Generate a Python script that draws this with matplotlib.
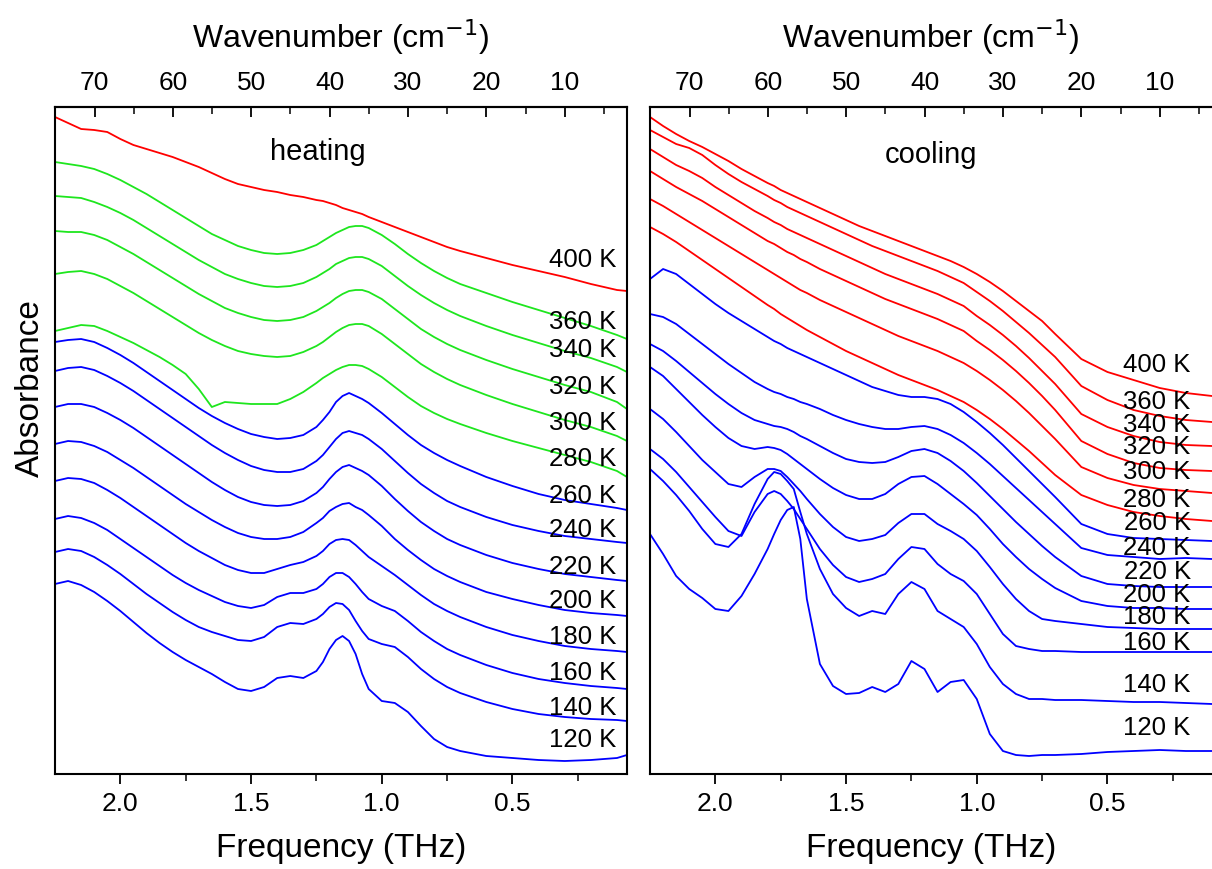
import matplotlib
matplotlib.use("Agg")
import matplotlib.pyplot as plt
from matplotlib.ticker import FixedLocator, MultipleLocator

plt.rcParams['font.family'] = ['Liberation Sans', 'DejaVu Sans']

# ---------------- data (absorbance, arb. units, vertically offset) ----------------
freq_heat = [2.25, 2.20, 2.15, 2.10, 2.05, 2.00, 1.95, 1.90, 1.85, 1.80, 1.75, 1.70, 1.65,
             1.60, 1.55, 1.50, 1.45, 1.40, 1.35, 1.30, 1.25, 1.225, 1.20, 1.175, 1.15,
             1.125, 1.10, 1.075, 1.05, 1.00, 0.95, 0.90, 0.85, 0.80, 0.75, 0.70,
             0.60, 0.50, 0.40, 0.30, 0.20, 0.10, 0.062]
freq_cool = [2.25, 2.20, 2.15, 2.10, 2.05, 2.00, 1.95, 1.90, 1.85, 1.80, 1.775, 1.75, 1.725,
             1.70, 1.675, 1.65, 1.60, 1.55, 1.50, 1.45, 1.40, 1.35, 1.30, 1.25, 1.20, 1.15,
             1.10, 1.05, 1.00, 0.95, 0.90, 0.85, 0.80, 0.75, 0.70,
             0.60, 0.50, 0.40, 0.30, 0.20, 0.10]

heat_labels = ["400 K", "360 K", "340 K", "320 K", "300 K", "280 K", "260 K",
               "240 K", "220 K", "200 K", "180 K", "160 K", "140 K", "120 K"]
heat_colors = ["red"] + ["#1ee61e"] * 5 + ["blue"] * 8

heat_400 = [657,651,645,644,642,635,629,625,621,617,612,607,601,595,590,587,584,582,579,577,
            574,573,571,569,566,564,562,560,557, 552,547,542,537,532,527,523, 516,509,503,497,490,484,483]
heat_360 = [612,610,608,605,600,594,587,580,572,564,556,548,540,534,528,524,521,520,521,524,
            529,533,537,541,544,547,548,548,546, 539,530,520,511,503,496,490, 481,472,464,456,448,439,435]
heat_340 = [578,577,576,572,567,561,554,546,538,530,522,514,507,500,495,491,488,487,488,491,
            497,501,505,510,513,516,517,517,515, 508,498,488,479,471,464,458, 448,439,431,423,416,407,402]
heat_320 = [543,542,542,539,534,527,520,512,504,496,488,480,473,466,461,457,454,453,454,457,
            463,467,471,476,480,483,484,484,482, 475,465,455,445,437,430,424, 414,405,397,389,382,372,365]
heat_300 = [500,502,503,500,495,488,481,473,465,457,449,441,434,428,423,420,418,417,418,422,
            428,432,437,442,446,449,450,450,448, 440,430,420,410,402,395,389, 379,370,362,354,347,338,333]
heat_280 = [443,446,449,448,443,437,431,424,417,409,400,385,367,372,371,370,370,370,375,382,
            391,396,400,404,407,409,409,408,405, 397,387,377,368,361,355,350, 341,333,326,319,312,303,297]
heat_260 = [432,434,435,432,426,419,411,402,393,384,375,366,358,351,345,340,337,335,336,339,
            347,354,362,372,378,381,378,375,371, 361,350,339,329,321,314,308, 297,288,280,274,270,266,264]
heat_240 = [403,406,407,404,398,391,383,374,365,356,347,338,329,321,314,308,304,302,302,305,
            313,319,327,335,341,343,341,339,335, 325,313,301,290,281,273,267, 257,249,243,238,235,232,231]
heat_220 = [367,370,370,367,361,354,346,337,328,319,310,301,292,284,277,272,269,268,269,273,
            281,287,295,302,307,309,306,303,299, 288,275,263,252,243,235,229, 219,211,205,200,197,194,193]
heat_200 = [330,333,332,328,322,314,306,297,288,279,270,262,254,247,241,237,235,235,237,242,
            251,256,263,267,270,271,267,264,259, 248,235,224,214,205,198,192, 182,175,169,164,161,159,158]
heat_180 = [293,296,295,291,284,276,267,258,249,240,231,223,216,209,204,201,201,205,209,212,
            218,223,230,234,235,234,229,223,217, 208,199,189,179,170,163,157, 147,139,133,128,125,123,122]
heat_160 = [255,258,256,251,244,235,226,217,208,199,191,184,178,172,168,166,169,177,181,181,
            185,190,197,201,201,197,190,182,175, 168,163,153,142,133,125,119, 109,101,95,91,88,86,85]
heat_140 = [222,225,223,217,209,200,190,180,171,162,154,147,142,138,134,133,137,147,151,150,
            155,160,167,171,170,164,153,143,135, 130,127,117,105,95,87,81, 72,65,60,57,55,54,53]
heat_120 = [190,193,189,182,173,163,152,141,131,122,114,107,100,92,85,83,87,96,98,96,
            103,112,125,134,138,133,120,100,85, 73,71,62,48,35,27,23, 18,16,14,13,14,16,19]

cool_labels = ["400 K", "360 K", "340 K", "320 K", "300 K", "280 K", "260 K",
               "240 K", "220 K", "200 K", "180 K", "160 K", "140 K", "120 K"]
cool_colors = ["red"] * 6 + ["blue"] * 8

cool_400 = [657,648,640,633,627,620,613,605,598,591,588,584,581,578,575,572,566,
            560,554,548,543,538,533,528,523,518,513,507, 500,492,483,473,463,453,440, 415,402,394,386,381,378]
cool_360 = [644,637,630,626,619,609,600,592,585,578,574,571,567,564,561,558,552,
            546,540,534,528,523,518,513,508,503,497,491, 482,473,463,452,441,429,417, 388,374,364,358,354,352]
cool_340 = [625,617,609,603,596,587,579,571,563,556,552,549,545,542,539,536,530,
            524,518,512,506,500,495,490,485,480,474,468, 458,449,439,428,416,403,390, 360,347,338,332,329,328]
cool_320 = [603,595,587,580,573,565,557,549,541,533,530,526,522,519,515,512,505,
            499,493,487,481,475,470,465,460,455,449,443, 433,424,414,403,391,378,364, 333,320,311,306,304,303]
cool_300 = [575,568,560,552,544,536,528,520,512,504,500,496,492,488,484,481,474,
            468,462,456,450,444,438,433,428,423,417,411, 403,394,384,373,361,348,335, 307,296,289,285,283,281]
cool_280 = [547,540,532,523,514,505,496,487,478,469,465,460,456,452,448,444,437,
            430,423,417,411,405,399,394,389,384,378,372, 364,355,345,334,323,311,299, 279,269,262,258,255,253]
cool_260 = [495,505,500,490,480,470,461,453,445,437,433,430,426,423,420,417,411,
            405,399,393,387,383,379,377,377,375,370,362, 352,341,329,316,303,290,277, 250,240,236,235,234,233]
cool_240 = [460,457,450,440,430,420,410,401,392,385,382,380,377,375,372,370,365,
            359,354,350,347,345,345,347,348,345,339,331, 321,310,298,286,274,262,250, 226,219,217,215,216,215]
cool_220 = [430,423,413,402,391,380,370,361,354,350,348,347,345,342,338,335,328,
            321,315,312,311,312,317,323,325,321,313,303, 291,278,265,252,240,228,217, 198,190,188,187,187,187]
cool_200 = [407,398,385,372,359,347,336,328,325,327,326,324,320,315,310,305,295,
            286,279,275,275,280,290,297,298,290,280,270, 259,245,230,217,205,195,186, 173,168,166,166,165,165]
cool_180 = [365,355,342,328,314,302,290,287,297,305,305,303,297,290,283,275,260,
            247,237,233,235,239,251,260,260,250,243,235, 223,207,190,175,163,155,153, 150,147,146,145,145,145]
cool_160 = [325,315,302,287,272,257,243,238,262,280,283,280,273,265,255,245,225,
            209,197,192,195,200,215,227,225,210,200,193, 180,160,140,128,125,123,123, 122,122,122,122,122,122]
cool_140 = [305,293,279,263,245,230,227,240,270,295,302,300,293,285,262,240,205,
            180,166,158,163,160,180,192,185,163,155,147, 130,107,90,80,75,75,74, 74,73,72,72,71,70]
cool_120 = [240,220,198,185,176,165,163,178,200,225,240,254,264,267,235,175,110,
            88,80,81,87,82,90,113,105,82,92,94, 75,40,23,19,18,19,19, 20,22,23,24,23,23]

heat_series = [heat_400, heat_360, heat_340, heat_320, heat_300, heat_280, heat_260,
               heat_240, heat_220, heat_200, heat_180, heat_160, heat_140, heat_120]
cool_series = [cool_400, cool_360, cool_340, cool_320, cool_300, cool_280, cool_260,
               cool_240, cool_220, cool_200, cool_180, cool_160, cool_140, cool_120]

# label anchor positions (frequency, absorbance)
heat_label_f = 0.23
heat_label_y = [515, 453, 425, 388, 352, 316, 279, 245, 208, 174, 138, 102, 67, 35]
cool_label_f = 0.31
cool_label_y = [410, 373, 350, 328, 303, 275, 252, 227, 203, 180, 158, 132, 90, 47]

wn_major = [70, 60, 50, 40, 30, 20, 10]
wn_minor = [65, 55, 45, 35, 25, 15, 5]
thz_major = [2.0, 1.5, 1.0, 0.5]
thz_minor = [1.75, 1.25, 0.75, 0.25]

THZ_TO_CM = 33.356

# ---------------- figure ----------------
W, H = 1212, 870
fig = plt.figure(figsize=(W / 100, H / 100), dpi=100)

def px_axes(x0, y0, x1, y1):
    return fig.add_axes([x0 / W, (H - y1) / H, (x1 - x0) / W, (y1 - y0) / H])

ax1 = px_axes(55, 108, 627, 775)
ax2 = px_axes(650, 108, 1212, 775)

def style(ax, f_right):
    ax.set_xlim(2.25, f_right)
    ax.set_ylim(0, 667)
    ax.set_yticks([])
    for s in ax.spines.values():
        s.set_linewidth(1.5)
    ax.xaxis.set_major_locator(FixedLocator(thz_major))
    ax.xaxis.set_minor_locator(FixedLocator(thz_minor))
    ax.tick_params(axis='x', which='major', direction='out', length=7.5, width=1.3,
                   labelsize=19, pad=5)
    ax.tick_params(axis='x', which='minor', direction='out', length=5, width=1.1)
    ax.set_xlabel("Frequency (THz)", fontsize=24, labelpad=12)
    sec = ax.secondary_xaxis('top', functions=(lambda f: f * THZ_TO_CM,
                                               lambda k: k / THZ_TO_CM))
    sec.xaxis.set_major_locator(FixedLocator(wn_major))
    sec.xaxis.set_minor_locator(FixedLocator(wn_minor))
    sec.tick_params(axis='x', which='major', direction='in', length=7.5, width=1.3,
                    labelsize=19, pad=9)
    sec.tick_params(axis='x', which='minor', direction='in', length=5, width=1.1)
    sec.spines['top'].set_linewidth(1.5)
    sec.set_xlabel("Wavenumber (cm$^{-1}$)", fontsize=23, labelpad=17)
    return sec

style(ax1, 2.25 - 572 / 261.4)
style(ax2, 2.25 - 562 / 261.4)
ax2.spines['right'].set_visible(False)

ax1.text(0.46, 0.934, "heating", transform=ax1.transAxes, ha='center', va='center', fontsize=21)
ax2.text(0.50, 0.930, "cooling", transform=ax2.transAxes, ha='center', va='center', fontsize=21)

for ys, c in zip(heat_series, heat_colors):
    ax1.plot(freq_heat, ys, color=c, lw=1.3)
for ys, c in zip(cool_series, cool_colors):
    ax2.plot(freq_cool, ys, color=c, lw=1.3)

for lab, yl in zip(heat_labels, heat_label_y):
    ax1.text(heat_label_f, yl, lab, ha='center', va='center', fontsize=18.5)
for lab, yl in zip(cool_labels, cool_label_y):
    ax2.text(cool_label_f, yl, lab, ha='center', va='center', fontsize=18.5)

fig.text(30 / W, 1 - 388 / H, "Absorbance", rotation=90, ha='center', va='center', fontsize=24)

fig.savefig("out.png", dpi=100)
